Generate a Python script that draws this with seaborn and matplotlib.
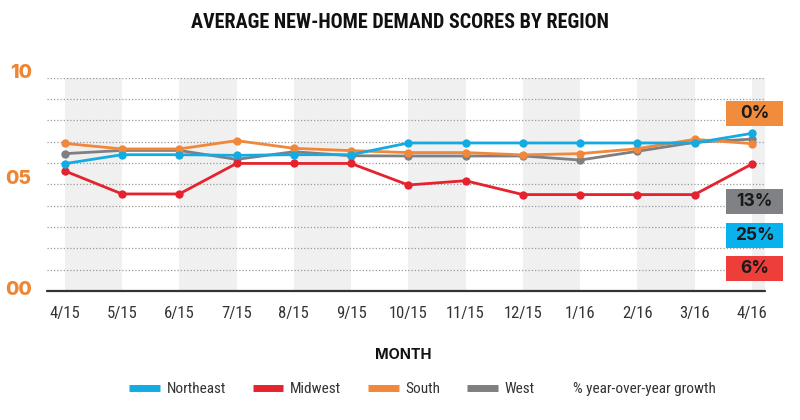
import matplotlib
matplotlib.use("Agg")
import matplotlib.pyplot as plt
import matplotlib.transforms as mtransforms
from matplotlib.patches import Rectangle
from matplotlib.lines import Line2D
from matplotlib import font_manager as fm
import numpy as np
import pandas as pd
import seaborn as sns

# ---------------- data ----------------
months = ["4/15", "5/15", "6/15", "7/15", "8/15", "9/15", "10/15",
          "11/15", "12/15", "1/16", "2/16", "3/16", "4/16"]
regions = ["Northeast", "Midwest", "South", "West"]
northeast = [5.97, 6.39, 6.39, 6.36, 6.39, 6.39, 6.94, 6.94, 6.94, 6.94, 6.94, 6.94, 7.39]
midwest = [5.63, 4.55, 4.55, 5.98, 5.98, 5.98, 4.97, 5.17, 4.52, 4.52, 4.52, 4.52, 5.95]
south = [6.92, 6.66, 6.66, 7.05, 6.69, 6.58, 6.49, 6.49, 6.38, 6.44, 6.67, 7.11, 6.91]
west = [6.44, 6.59, 6.59, 6.17, 6.53, 6.34, 6.33, 6.33, 6.33, 6.14, 6.55, 6.97, 7.12]
growth_regions = ["South", "West", "Northeast", "Midwest"]
growth_labels = ["0%", "13%", "25%", "6%"]
y_ticks = [0, 1, 2, 3, 4, 5, 6, 7, 8, 9, 10]
y_tick_labels = ["00", "", "", "", "", "05", "", "", "", "", "10"]

title = "AVERAGE NEW-HOME DEMAND SCORES BY REGION"
xlabel = "MONTH"
growth_note = "% year-over-year growth"

# ---------------- style ----------------
colors = {"Northeast": "#12ACE3", "Midwest": "#E5222E",
          "South": "#F0873A", "West": "#7F7F82"}
box_colors = {"Northeast": "#09B2EC", "Midwest": "#EE3E3A",
              "South": "#F28C3D", "West": "#808184"}


def pick(names):
    for n in names:
        try:
            fm.findfont(fm.FontProperties(family=n), fallback_to_default=False)
            return n
        except Exception:
            pass
    return "DejaVu Sans"


sns.set_theme(style="white")
cond = pick(["Liberation Sans Narrow", "Roboto Condensed", "DejaVu Sans"])
wide = pick(["Inter", "Lato", "Roboto", "DejaVu Sans"])
plt.rcParams["font.family"] = [cond, "DejaVu Sans"]

df = pd.DataFrame({
    "idx": list(range(len(months))) * len(regions),
    "score": northeast + midwest + south + west,
    "region": sum([[r] * len(months) for r in regions], []),
})

W, H = 800, 420
fig = plt.figure(figsize=(8, 4.2), dpi=100)
ax = fig.add_axes([47 / W, 1 - 291 / H, (765 - 47) / W, (291 - 77.7) / H])

n = len(months)
for i in range(0, n, 2):
    ax.axvspan(i, i + 1, color="#F0F0F0", lw=0, zorder=0)

for y in y_ticks[1:]:
    ax.axhline(y, color="#9A9A9A", lw=0.9, ls=(0, (1, 1.6)), zorder=1)
ax.axhline(0, color="#333333", lw=1.6, zorder=2, clip_on=False)

order = ["West", "South", "Midwest", "Northeast"]
for r in order:
    sub = df[df.region == r]
    sns.lineplot(data=sub, x="idx", y="score", color=colors[r], ax=ax,
                 marker="o", markersize=6, markeredgewidth=0, linewidth=2,
                 legend=False, zorder=3, clip_on=False)

ax.set_xlim(-0.31, n - 1 + 0.23)
ax.set_ylim(0, 10)
ax.set_xticks(range(n))
ax.set_xticklabels(months)
ax.set_yticks(y_ticks)
ax.set_yticklabels(y_tick_labels)
ax.set_xlabel("")
ax.set_ylabel("")
for s in ax.spines.values():
    s.set_visible(False)
ax.tick_params(axis="x", length=0, pad=11, labelsize=12, labelcolor="#333333")
ax.tick_params(axis="y", length=0, pad=11)
for lbl in ax.get_yticklabels():
    lbl.set_fontfamily([wide, "DejaVu Sans"])
    lbl.set_fontweight("heavy")
    lbl.set_fontsize(14)
    lbl.set_color("#EE8533")
    dy = 3 if lbl.get_text() == "00" else 7
    off = mtransforms.ScaledTranslation(0, dy / 100, fig.dpi_scale_trans)
    lbl.set_transform(lbl.get_transform() + off)

# title
fig.text(0.5, 1 - 22 / H, title, ha="center", va="center", fontsize=14.5,
         fontweight="heavy", color="#111111")
# axis label
fig.text(403 / W, 1 - 355 / H, xlabel, ha="center", va="center", fontsize=10.5,
         fontweight="bold", color="#111111", family=[wide, "DejaVu Sans"])

# growth boxes
box_cy = [113, 201.5, 235, 268.7]
for r, lab, cy in zip(growth_regions, growth_labels, box_cy):
    fig.patches.append(Rectangle(((725.7) / W, 1 - (cy + 12.5) / H), 57.3 / W, 25 / H,
                                 transform=fig.transFigure, facecolor=box_colors[r],
                                 edgecolor="none", zorder=5))
    fig.text(754.5 / W, 1 - cy / H, lab, ha="center", va="center", fontsize=12.5,
             fontweight="bold", color="#1A1A1A", family=[wide, "DejaVu Sans"], zorder=6)

# legend
handles = [Line2D([0], [0], color=colors[r], lw=5, solid_capstyle="butt") for r in regions]
leg = fig.legend(handles, regions, loc="center", bbox_to_anchor=(332 / W, 1 - 389 / H),
                 ncol=4, frameon=False, fontsize=11, handlelength=2.0, handletextpad=0.45,
                 columnspacing=1.75, labelcolor="#333333")
fig.text(573 / W, 1 - 389 / H, growth_note, ha="left", va="center", fontsize=11,
         color="#333333")

fig.savefig("out.png", dpi=100)
